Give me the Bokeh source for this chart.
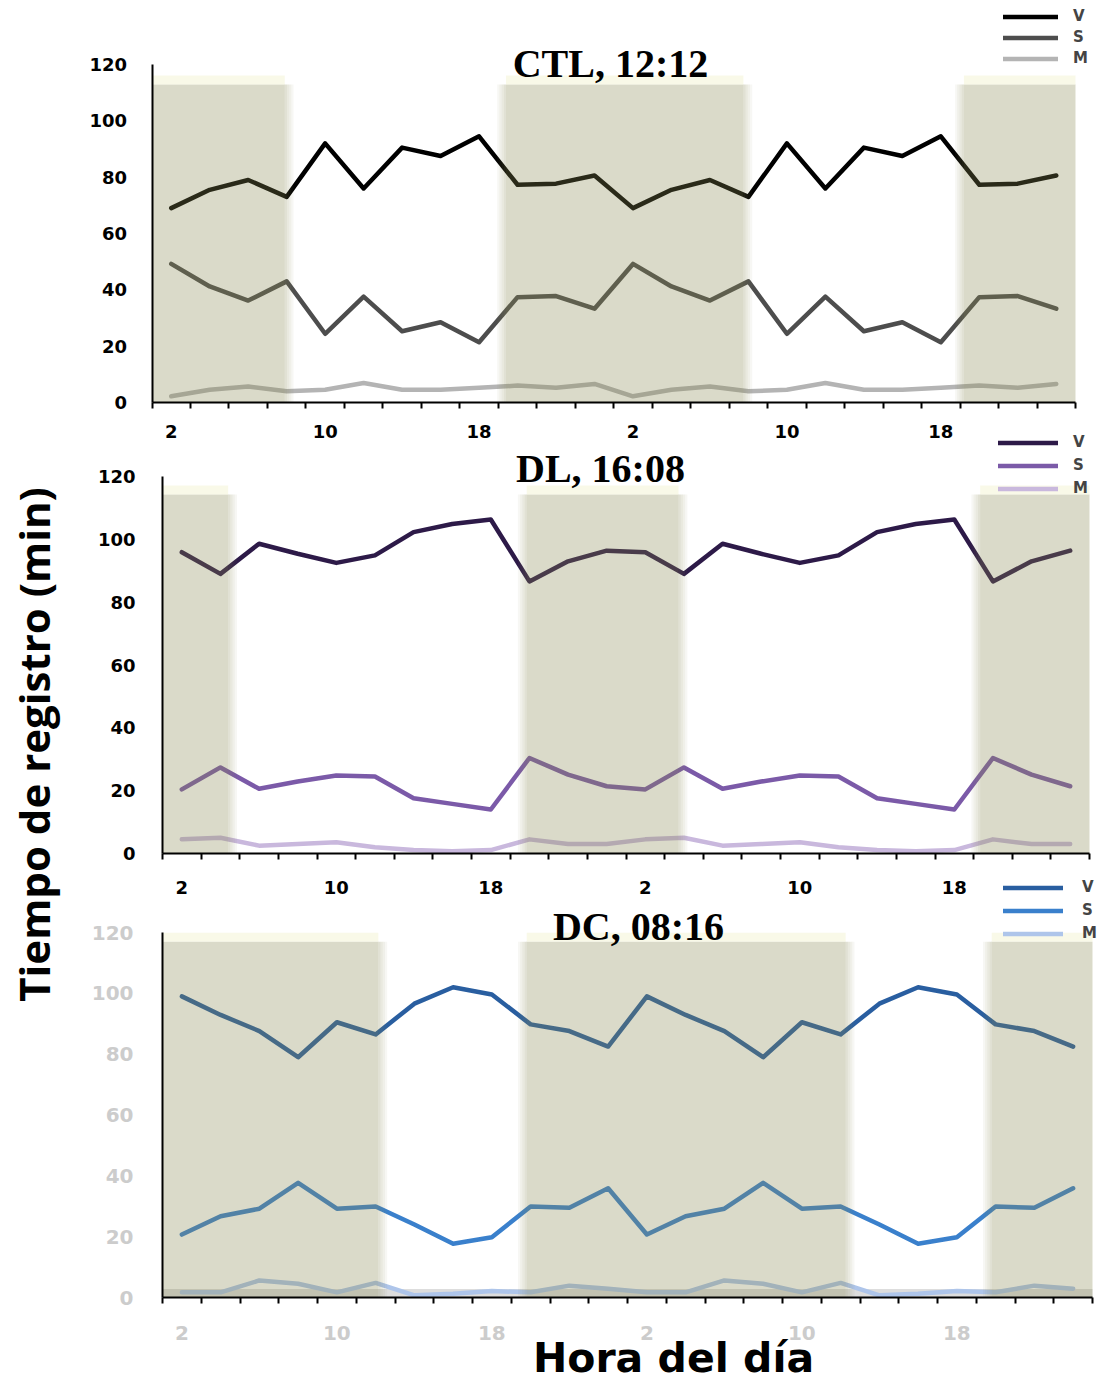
import numpy as np
from bokeh.plotting import figure
from bokeh.models import (Range1d, FixedTicker, Legend, LegendItem, Label,
                          LinearAxis)
from bokeh.embed import file_html
from bokeh.resources import INLINE

# ---------------- data ----------------
hours = [2, 4, 6, 8, 10, 12, 14, 16, 18, 20, 22, 24,
         2, 4, 6, 8, 10, 12, 14, 16, 18, 20, 22, 24]
label_every = 4
y_ticks = [0, 20, 40, 60, 80, 100, 120]
series_names = ["V", "S", "M"]

ctl_v = [69, 75.5, 79, 73, 92, 76, 90.5, 87.5, 94.5, 77.3, 77.7, 80.6,
         69, 75.5, 79, 73, 92, 76, 90.5, 87.5, 94.5, 77.3, 77.7, 80.6]
ctl_s = [49.2, 41.2, 36.2, 43, 24.4, 37.6, 25.3, 28.5, 21.4, 37.4, 37.8, 33.3,
         49.2, 41.2, 36.2, 43, 24.4, 37.6, 25.3, 28.5, 21.4, 37.4, 37.8, 33.3]
ctl_m = [2.2, 4.5, 5.7, 4.0, 4.5, 6.9, 4.5, 4.5, 5.2, 6.0, 5.2, 6.6,
         2.2, 4.5, 5.7, 4.0, 4.5, 6.9, 4.5, 4.5, 5.2, 6.0, 5.2, 6.6]

dl_v = [95.9, 89, 98.6, 95.4, 92.5, 94.9, 102.3, 104.9, 106.3, 86.6, 93, 96.4,
        95.9, 89, 98.6, 95.4, 92.5, 94.9, 102.3, 104.9, 106.3, 86.6, 93, 96.4]
dl_s = [20.4, 27.4, 20.6, 22.9, 24.8, 24.5, 17.6, 15.8, 14.0, 30.4, 25.1, 21.4,
        20.4, 27.4, 20.6, 22.9, 24.8, 24.5, 17.6, 15.8, 14.0, 30.4, 25.1, 21.4]
dl_m = [4.5, 5.0, 2.5, 3.0, 3.6, 2.0, 1.1, 0.7, 1.1, 4.5, 3.0, 3.0,
        4.5, 5.0, 2.5, 3.0, 3.6, 2.0, 1.1, 0.7, 1.1, 4.5, 3.0, 3.0]

dc_v = [99, 92.9, 87.6, 79, 90.5, 86.5, 96.6, 102, 99.6, 89.8, 87.6, 82.5,
        99, 92.9, 87.6, 79, 90.5, 86.5, 96.6, 102, 99.6, 89.8, 87.6, 82.5]
dc_s = [20.7, 26.7, 29.2, 37.7, 29.2, 29.9, 24.0, 17.7, 19.8, 29.9, 29.5, 35.9,
        20.7, 26.7, 29.2, 37.7, 29.2, 29.9, 24.0, 17.7, 19.8, 29.9, 29.5, 35.9]
dc_m = [1.7, 1.7, 5.6, 4.5, 1.7, 4.8, 0.7, 1.2, 2.1, 1.7, 3.9, 2.9,
        1.7, 1.7, 5.6, 4.5, 1.7, 4.8, 0.7, 1.2, 2.1, 1.7, 3.9, 2.9]

# dark periods (in point-index units)
ctl_dark_start = [-0.5, 8.7, 20.6]
ctl_dark_end = [2.95, 14.87, 23.5]
dl_dark_start = [-0.5, 8.93, 20.67]
dl_dark_end = [1.2, 12.86, 23.5]
dc_dark_start = [-0.5, 8.9, 20.9]
dc_dark_end = [5.07, 17.13, 23.5]

titles = ["CTL, 12:12", "DL, 16:08", "DC, 08:16"]
y_title = "Tiempo de registro (min)"
x_title = "Hora del día"

# ---------------- layout constants ----------------
W, H = 1100, 1384          # canvas size
OX, OY = 0, 0              # page offset of the canvas
SHADE = "#868650"
SHADE_ALPHA = 0.31
N = len(hours)
xs = list(range(N))
tick_pos = list(range(0, N, label_every))
overrides = {i: str(hours[i]) for i in tick_pos}
minor = [i - 0.5 for i in range(N + 1)]


def cx(px):
    return px - OX


def cy(py):
    return H - (py - OY)


p = figure(width=W, height=H, x_range=Range1d(0, W), y_range=Range1d(0, H),
           x_axis_location=None, y_axis_location=None, toolbar_location=None,
           output_backend="svg", min_border=0)
p.outline_line_color = None
p.background_fill_color = "white"
p.border_fill_color = "white"
p.xgrid.visible = False
p.ygrid.visible = False
p.grid.visible = False


def panel(name, vals, colors, dstart, dend, dtop, frame_px, label_color,
          label_size, xstand, ystand, leg_px, leg_gw, leg_gh, leg_standoff,
          bottom_band=False):
    x0px, x1px, y0px, y120px = frame_px
    sx = (x1px - x0px) / N
    sy = (y0px - y120px) / 120.0
    p.extra_x_ranges[name] = Range1d(-0.5 + (OX - x0px) / sx,
                                     -0.5 + (OX + W - x0px) / sx)
    p.extra_y_ranges[name] = Range1d(-(OY + H - y0px) / sy, (y0px - OY) / sy)
    kw = dict(x_range_name=name, y_range_name=name)

    if bottom_band:
        p.quad(left=[-0.5], right=[N - 0.5], bottom=[0], top=[2.8],
               fill_color="#cfcfcf", fill_alpha=0.7, line_color=None, **kw)

    rends = []
    for v, c in zip(vals, colors):
        rends.append(p.line(xs, v, line_color=c, line_width=4.5,
                            line_join="round", line_cap="round", **kw))

    # night shading (drawn over the lines, translucent)
    nd = len(dstart)
    p.quad(left=dstart, right=dend, bottom=[0] * nd, top=[dtop] * nd,
           fill_color=SHADE, fill_alpha=SHADE_ALPHA, line_color=None, **kw)
    # pale glow on top of the shading
    p.quad(left=dstart, right=dend, bottom=[dtop] * nd,
           top=[dtop + 9.0 / sy] * nd, fill_color="#f2f2cc", fill_alpha=0.45,
           line_color=None, **kw)
    # soft edges
    step = 2.2 / sx
    for k in range(1, 5):
        a = SHADE_ALPHA * (1 - k / 5.0)
        ls = [s - k * step for s in dstart if s > -0.5]
        le = [e + k * step for e in dend if e < N - 0.5]
        lefts = ls + [e + (k - 1) * step for e in dend if e < N - 0.5]
        rights = [s - (k - 1) * step for s in dstart if s > -0.5] + le
        if lefts:
            p.quad(left=lefts, right=rights, bottom=[0] * len(lefts),
                   top=[dtop] * len(lefts), fill_color=SHADE, fill_alpha=a,
                   line_color=None, **kw)

    xa = LinearAxis(fixed_location=0, bounds=(-0.5, N - 0.5),
                    ticker=FixedTicker(ticks=tick_pos, minor_ticks=minor),
                    major_label_overrides=overrides, **kw)
    xa.major_tick_line_color = None
    xa.major_tick_out = 0
    xa.major_tick_in = 0
    xa.minor_tick_out = 6
    xa.minor_tick_in = 0
    xa.minor_tick_line_color = "black"
    xa.minor_tick_line_width = 2
    xa.axis_line_color = "black"
    xa.axis_line_width = 2
    xa.major_label_standoff = xstand
    xa.major_label_text_font = "DejaVu Sans"
    xa.major_label_text_font_style = "bold"
    xa.major_label_text_font_size = label_size
    xa.major_label_text_color = label_color
    p.add_layout(xa, "below")

    ya = LinearAxis(fixed_location=-0.5, bounds=(0, 120),
                    ticker=FixedTicker(ticks=y_ticks), **kw)
    ya.major_tick_out = 0
    ya.major_tick_in = 0
    ya.major_tick_line_color = None
    ya.minor_tick_line_color = None
    ya.axis_line_color = "black"
    ya.axis_line_width = 2
    ya.major_label_standoff = ystand
    ya.major_label_text_font = "DejaVu Sans"
    ya.major_label_text_font_style = "bold"
    ya.major_label_text_font_size = label_size
    ya.major_label_text_color = label_color
    p.add_layout(ya, "left")

    lx, ly = leg_px
    leg = Legend(items=[LegendItem(label=n, renderers=[r])
                        for n, r in zip(series_names, rends)],
                 location=(cx(lx), cy(ly)), orientation="vertical",
                 background_fill_alpha=0, border_line_color=None,
                 label_text_font="DejaVu Sans", label_text_font_style="bold",
                 label_text_font_size="15px", glyph_width=leg_gw,
                 glyph_height=leg_gh, label_height=leg_gh,
                 label_standoff=leg_standoff, spacing=0, padding=0, margin=0)
    p.add_layout(leg)


panel("ctl", [ctl_v, ctl_s, ctl_m], ["#000000", "#4d4d4d", "#b4b4b4"],
      ctl_dark_start, ctl_dark_end, 112.9, (151.5, 1075, 402, 64),
      "black", "18px", 16, 25, (1003, 68.5), 55, 21, 15)
panel("dl", [dl_v, dl_s, dl_m], ["#2d1a48", "#7b5aa8", "#c9b8dd"],
      dl_dark_start, dl_dark_end, 114.3, (162, 1089, 853, 476),
      "black", "18px", 21, 27, (998, 499.5), 60, 23, 15)
panel("dc", [dc_v, dc_s, dc_m], ["#295ea0", "#3a80cc", "#aec5ea"],
      dc_dark_start, dc_dark_end, 117.0, (162, 1092, 1297, 932),
      "#cccccc", "20px", 22, 29, (1003, 944.5), 60, 23, 19, bottom_band=True)

# panel titles (page-pixel anchors)
for t, (tpx, tpy) in zip(titles, [(610, 63), (600, 468), (638, 926)]):
    p.add_layout(Label(x=cx(tpx), y=cy(tpy), text=t,
                       text_font="Liberation Serif", text_font_style="bold",
                       text_font_size="40px", text_align="center",
                       text_baseline="middle", text_color="black"))

p.add_layout(Label(x=cx(673), y=cy(1357), text=x_title,
                   text_font="DejaVu Sans", text_font_style="bold",
                   text_font_size="41px", text_align="center",
                   text_baseline="middle", text_color="black"))

p.add_layout(Label(x=cx(33), y=cy(744), text=y_title, angle=np.pi / 2,
                   text_font="Open Sans", text_font_style="bold",
                   text_font_size="42px", text_align="center",
                   text_baseline="middle", text_color="black"))

open("out.html", "w").write(file_html(p, INLINE))
